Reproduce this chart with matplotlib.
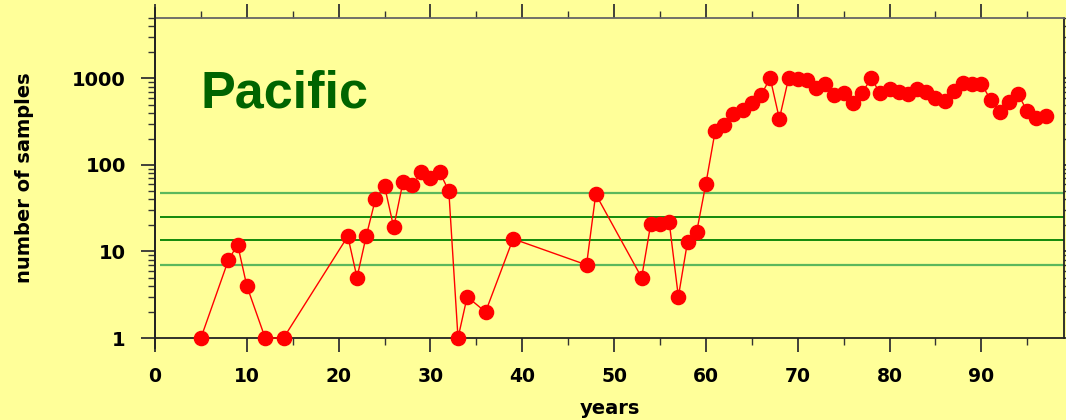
import matplotlib
matplotlib.use("Agg")
import matplotlib.pyplot as plt
from matplotlib.ticker import FixedLocator, NullFormatter, LogLocator, FixedFormatter

years = [5, 8, 9, 10, 12, 14, 21, 22, 23, 24, 25, 26, 27, 28, 29, 30, 31, 32, 33, 34,
         36, 39, 47, 48, 53, 54, 55, 56, 57, 58, 59, 60, 61, 62, 63, 64, 65, 66, 67, 68,
         69, 70, 71, 72, 73, 74, 75, 76, 77, 78, 79, 80, 81, 82, 83, 84, 85, 86, 87, 88,
         89, 90, 91, 92, 93, 94, 95, 96, 97]
samples = [1, 8, 12, 4, 1, 1, 15, 5, 15, 40, 57, 19, 63, 58, 82, 70, 83, 50, 1, 3,
           2, 14, 7, 46, 5, 21, 21, 22, 3, 13, 17, 61, 244, 288, 384, 430, 524, 642, 1010, 342,
           1000, 980, 958, 782, 871, 649, 684, 519, 684, 1000, 672, 748, 690, 667, 748, 696, 599, 547, 709, 894,
           855, 870, 568, 408, 533, 660, 416, 351, 367]

light_levels = [47.9, 7.0]
dark_levels = [25.0, 13.6]

x_major = [0, 10, 20, 30, 40, 50, 60, 70, 80, 90]
x_minor = [5, 15, 25, 35, 45, 55, 65, 75, 85, 95]
y_major = [1, 10, 100, 1000]
y_labels = ["1", "10", "100", "1000"]

bg = "#ffff99"
W, H = 1066, 420
fig = plt.figure(figsize=(W / 100, H / 100), dpi=100, facecolor=bg)
ax = fig.add_axes([155 / W, 1 - 338 / H, (1064 - 155) / W, (338 - 18) / H], facecolor=bg)

ax.set_yscale("log")
ax.set_xlim(0, 99)
ax.set_ylim(1, 5000)

ax.hlines(light_levels, 0.5, 99, colors="#5cb85c", linewidth=1.6, zorder=1)
ax.hlines(dark_levels, 0.5, 99, colors="#008000", linewidth=1.3, zorder=1)

ax.plot(years, samples, color="#ff0000", linewidth=1.0, marker="o",
        markersize=10.2, markerfacecolor="#ff0000", markeredgecolor="#ff0000", zorder=3,
        clip_on=False)

ax.xaxis.set_major_locator(FixedLocator(x_major))
ax.xaxis.set_minor_locator(FixedLocator(x_minor))
ax.yaxis.set_major_locator(FixedLocator(y_major))
ax.yaxis.set_major_formatter(FixedFormatter(y_labels))
ax.yaxis.set_minor_locator(LogLocator(base=10, subs=range(2, 10), numticks=20))
ax.yaxis.set_minor_formatter(NullFormatter())

ax.tick_params(axis="both", which="both", direction="out", top=True, right=True,
               labeltop=False, labelright=False, colors="#333333")
ax.tick_params(axis="both", which="major", length=10, width=1.3)
ax.tick_params(axis="both", which="minor", length=5, width=1.0)
ax.tick_params(axis="x", which="major", pad=11, labelsize=13.5, labelcolor="black")
ax.tick_params(axis="y", which="major", pad=11, labelsize=14, labelcolor="black")
for lab in ax.get_xticklabels() + ax.get_yticklabels():
    lab.set_fontweight("bold")
    lab.set_family("DejaVu Sans")

for s in ["left", "right", "bottom"]:
    ax.spines[s].set_color("#222222")
    ax.spines[s].set_linewidth(1.3)
ax.spines["top"].set_color("#666666")
ax.spines["top"].set_linewidth(1.3)

# left spine extends past the plot frame
ax.plot([0, 0], [-10 / 320, 1 + 10 / 320], transform=ax.transAxes, color="#222222",
        linewidth=1.3, clip_on=False, zorder=4)

ax.set_xlabel("years", fontsize=14, fontweight="bold", family="DejaVu Sans")
ax.set_ylabel("number of samples", fontsize=14, fontweight="bold", family="DejaVu Sans")
ax.xaxis.set_label_coords(0.5, (338 - 399) / 320)
ax.yaxis.set_label_coords((34 - 155) / 909, 0.5)

ax.text(201 / W, 1 - 107.5 / H, "Pacific", transform=fig.transFigure, fontsize=37.5,
        fontweight="bold", family="Liberation Sans", color="#006400", ha="left", va="baseline")

fig.savefig("out.png", dpi=100, facecolor=bg)
